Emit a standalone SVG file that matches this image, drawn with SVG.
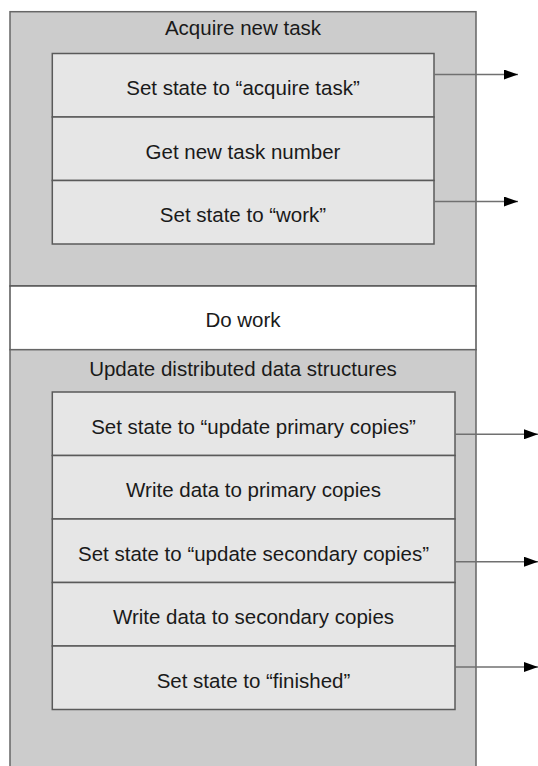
<svg xmlns="http://www.w3.org/2000/svg" width="538" height="766" viewBox="0 0 538 766">
<style>
.outer{fill:#cccccc;stroke:#666666;stroke-width:1.5}
.white{fill:#ffffff;stroke:#555555;stroke-width:1.5}
.inner{fill:#e6e6e6;stroke:#5a5a5a;stroke-width:1.5}
text{font-family:"Liberation Sans",Arial,sans-serif;font-size:20.5px;fill:#1a1a1a;text-anchor:middle}
.conn{stroke:#707070;stroke-width:1.5;fill:none}
</style>
<defs>
<marker id="arr" viewBox="0 0 14 10" refX="14" refY="5" markerWidth="14" markerHeight="10" markerUnits="userSpaceOnUse" orient="auto">
<path d="M0,0 L14,5 L0,10 Z" fill="#000"/>
</marker>
</defs>
<rect width="538" height="766" fill="#ffffff"/>
<g id="acquire-new-task">
<rect class="outer" x="10" y="11.7" width="466" height="274.3"/>
<text x="243" y="35.3">Acquire new task</text>
</g>
<g id="set-state-acquire">
<rect class="inner" x="52.3" y="53.5" width="381.7" height="63.5"/>
<text x="243" y="95.3">Set state to “acquire task”</text>
</g>
<g id="get-task-number">
<rect class="inner" x="52.3" y="117" width="381.7" height="63.5"/>
<text x="243" y="158.8">Get new task number</text>
</g>
<g id="set-state-work">
<rect class="inner" x="52.3" y="180.5" width="381.7" height="63.5"/>
<text x="243" y="222.3">Set state to “work”</text>
</g>
<g id="do-work">
<rect class="white" x="10" y="286" width="466" height="63.7"/>
<text x="243" y="326.6">Do work</text>
</g>
<g id="update-distributed">
<rect class="outer" x="10" y="349.7" width="466" height="430"/>
<text x="243" y="375.6">Update distributed data structures</text>
</g>
<g id="set-state-update-primary">
<rect class="inner" x="52.3" y="392" width="402.7" height="63.5"/>
<text x="253.5" y="433.8">Set state to “update primary copies”</text>
</g>
<g id="write-primary">
<rect class="inner" x="52.3" y="455.5" width="402.7" height="63.5"/>
<text x="253.5" y="497.3">Write data to primary copies</text>
</g>
<g id="set-state-update-secondary">
<rect class="inner" x="52.3" y="519" width="402.7" height="63.5"/>
<text x="253.5" y="560.8">Set state to “update secondary copies”</text>
</g>
<g id="write-secondary">
<rect class="inner" x="52.3" y="582.5" width="402.7" height="63.5"/>
<text x="253.5" y="624.3">Write data to secondary copies</text>
</g>
<g id="set-state-finished">
<rect class="inner" x="52.3" y="646" width="402.7" height="63.5"/>
<text x="253.5" y="687.8">Set state to “finished”</text>
</g>
<g id="connectors">
<line class="conn" x1="434" y1="74.5" x2="518" y2="74.5" marker-end="url(#arr)"/>
<line class="conn" x1="434" y1="201.5" x2="518" y2="201.5" marker-end="url(#arr)"/>
<line class="conn" x1="455" y1="434.3" x2="538" y2="434.3" marker-end="url(#arr)"/>
<line class="conn" x1="455" y1="561.7" x2="538" y2="561.7" marker-end="url(#arr)"/>
<line class="conn" x1="455" y1="667" x2="538" y2="667" marker-end="url(#arr)"/>
</g>
</svg>
